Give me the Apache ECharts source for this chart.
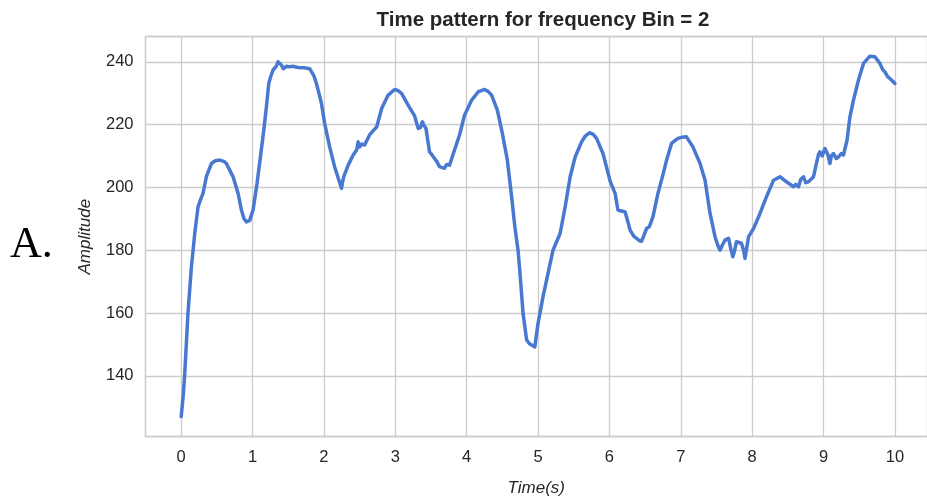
<!DOCTYPE html>
<html>
<head>
<meta charset="utf-8">
<script src="https://cdn.jsdelivr.net/npm/echarts@6/dist/echarts.min.js"></script>
<style>
html,body{margin:0;padding:0;background:#fff;}
#chart{width:927px;height:502px;}
</style>
</head>
<body>
<div id="chart"></div>
<script>
const titleText = 'Time pattern for frequency Bin = 2';
const xName = 'Time(s)';
const yName = 'Amplitude';
const panelLabel = 'A.';

const times = [
0.00,0.03,0.05,0.095,0.143,0.19,0.236,0.27,0.306,0.353,0.423,0.48,0.54,0.60,0.633,0.68,0.727,0.797,0.844,0.88,
0.914,0.94,0.96,1.007,1.063,1.11,1.157,1.194,1.227,1.25,1.287,1.33,1.357,1.38,1.404,1.43,1.45,1.48,1.52,1.56,
1.64,1.72,1.80,1.825,1.86,1.895,1.93,1.965,2.01,2.08,2.15,2.21,2.246,2.26,2.278,2.34,2.41,2.46,2.48,2.50,
2.53,2.57,2.64,2.70,2.74,2.81,2.90,2.99,3.04,3.09,3.18,3.27,3.32,3.35,3.38,3.40,3.43,3.48,3.51,3.55,
3.58,3.62,3.66,3.69,3.72,3.76,3.83,3.90,3.97,4.07,4.16,4.25,4.30,4.35,4.43,4.50,4.57,4.63,4.675,4.72,
4.755,4.79,4.84,4.88,4.91,4.955,5.00,5.07,5.14,5.21,5.31,5.38,5.45,5.52,5.61,5.66,5.72,5.77,5.82,5.91,
6.01,6.08,6.12,6.17,6.22,6.26,6.29,6.34,6.38,6.42,6.45,6.48,6.52,6.56,6.61,6.68,6.75,6.80,6.87,6.96,
7.02,7.08,7.17,7.27,7.34,7.41,7.48,7.52,7.55,7.58,7.62,7.67,7.70,7.73,7.75,7.78,7.85,7.88,7.90,7.95,
8.02,8.11,8.20,8.30,8.39,8.48,8.58,8.61,8.65,8.68,8.72,8.75,8.79,8.86,8.90,8.93,8.95,8.98,9.02,9.06,
9.09,9.11,9.14,9.18,9.21,9.25,9.28,9.33,9.37,9.42,9.49,9.56,9.65,9.72,9.79,9.83,9.86,9.90,9.93,9.97,
10.00
];

const amplitudes = [
127,134,140.8,159.9,174.7,185.3,193.8,196,198.1,203.4,207.6,208.5,208.7,208.3,207.6,205.5,203.4,198.1,192.8,190,
189.0,188.5,189.5,192.8,201.3,209.7,218.2,225.7,233.1,235,237.4,238.5,240,239.5,239,237.8,237.4,238.6,238.4,238.6,
238.2,238.1,237.8,237.4,235.5,233.1,230,226.8,220.4,212.9,206.6,202.3,199.7,201.5,203.4,207.1,210.3,212,214.5,212.9,
213.8,213.5,216.7,218.3,219.3,225.2,229.4,231.2,230.8,229.9,226.2,222.8,218.8,219,220.9,219.8,218.8,211.3,210.5,209.2,
208.3,206.6,206.3,206.1,207.3,207.1,211.9,216.7,223,227.8,230.4,231.2,230.6,229.4,224.6,217.2,208.7,197,187.5,180,
170.5,159.9,151.4,150.2,149.8,149.2,156.7,165.2,172.6,180,185.4,193.8,203.4,209.7,214.5,216.3,217.4,217,215.6,210.8,
202,198.1,192.8,192.5,192.2,189,186.4,184.5,183.8,183,182.8,184.5,186.9,187.5,190.6,198.1,204,208.6,214,215.6,
216,216.1,212.9,207.6,202.3,191.7,184.3,181.5,180,181.5,183.2,183.8,180.5,177.9,179.5,182.7,182.2,180,177.4,184.3,
186.9,191.7,197,202.3,203.4,201.8,200.2,201,200.2,202.5,203.4,201.5,201.8,203.4,207.6,210.5,211.3,210,212.4,210.5,
207.6,210,210.8,209.2,209.7,210.8,210.3,215.1,222.5,227.8,234.2,239.5,241.8,241.6,239.5,237.5,236.8,235.2,234.7,233.8,
233.1
];

const xRange = [-0.5, 10.45];
const yRange = [120.6, 248];

const seriesData = times.map((t, i) => [t, amplitudes[i]]);

const chart = echarts.init(document.getElementById('chart'), null, {renderer: 'canvas'});
const gridColor = '#cccccc';
const textColor = '#262626';
const font = '"Liberation Sans", Arial, sans-serif';

chart.setOption({
  animation: false,
  backgroundColor: '#ffffff',
  title: {
    text: titleText,
    left: 538, top: 5,
    textAlign: 'center',
    textStyle: {fontFamily: font, fontSize: 20.5, fontWeight: 'bold', color: textColor}
  },
  graphic: [{
    type: 'text', left: 10, top: 223,
    style: {text: panelLabel, font: '44px "Liberation Serif", "Times New Roman", serif', fill: '#000'}
  }],
  grid: {left: 145.5, right: 0, top: 36.7, bottom: 65.3, containLabel: false},
  xAxis: [{
    type: 'value', min: xRange[0], max: xRange[1], splitNumber: 11,
    name: xName, nameLocation: 'middle', nameGap: 43,
    nameTextStyle: {fontFamily: font, fontSize: 17, fontStyle: 'italic', color: textColor},
    axisLine: {show: true, lineStyle: {color: gridColor, width: 1.3}},
    axisTick: {show: false},
    axisLabel: {fontFamily: font, fontSize: 16.5, color: textColor, margin: 12, showMinLabel: false, showMaxLabel: false},
    splitLine: {show: true, lineStyle: {color: gridColor, width: 1.3}}
  }, {
    type: 'value', position: 'top', min: xRange[0], max: xRange[1],
    axisLine: {show: true, onZero: false, lineStyle: {color: gridColor, width: 1.3}},
    axisTick: {show: false}, axisLabel: {show: false}, splitLine: {show: false}
  }],
  yAxis: {
    type: 'value', min: yRange[0], max: yRange[1], splitNumber: 6,
    name: yName, nameLocation: 'middle', nameGap: 52,
    nameTextStyle: {fontFamily: font, fontSize: 17, fontStyle: 'italic', color: textColor},
    axisLine: {show: true, onZero: false, lineStyle: {color: gridColor, width: 1.3}},
    axisTick: {show: false},
    axisLabel: {fontFamily: font, fontSize: 16.5, color: textColor, margin: 12, showMinLabel: false, showMaxLabel: false},
    splitLine: {show: true, lineStyle: {color: gridColor, width: 1.3}}
  },
  series: [{
    type: 'line', xAxisIndex: 0, data: seriesData, showSymbol: false, symbol: 'none',
    lineStyle: {color: '#4878d0', width: 3.5, join: 'round', cap: 'round'},
    smooth: false
  }]
});
</script>
</body>
</html>
